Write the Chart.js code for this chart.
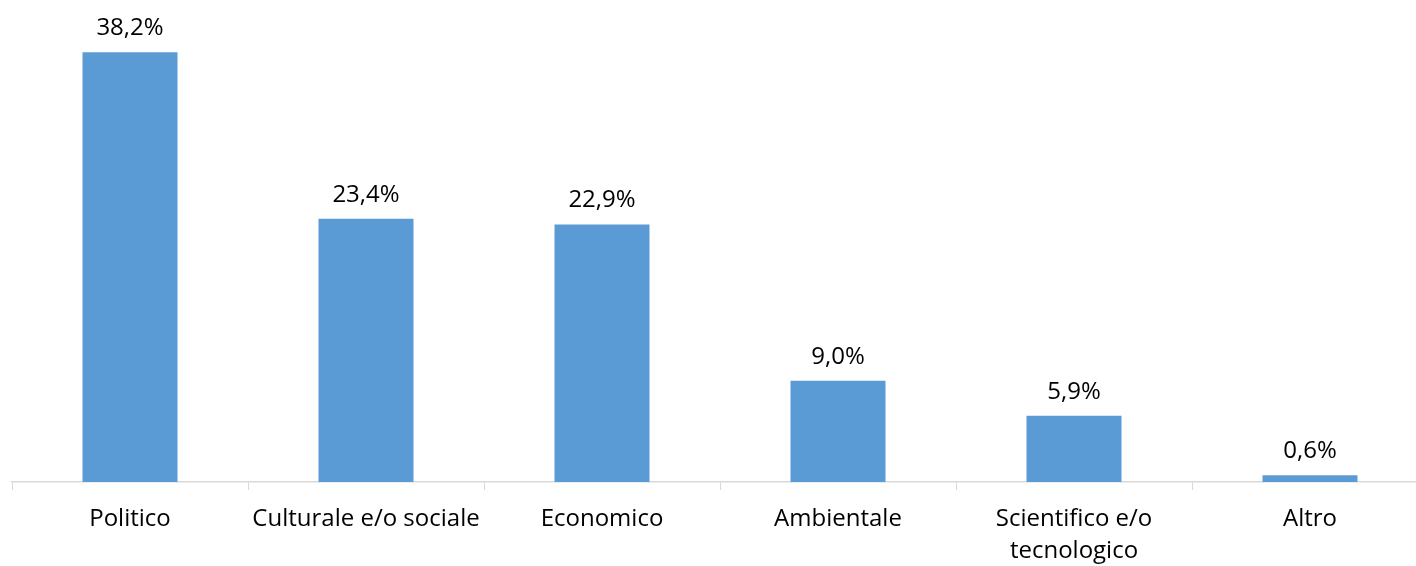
<!DOCTYPE html>
<html>
<head>
<meta charset="utf-8">
<script src="https://cdn.jsdelivr.net/npm/chart.js@4/dist/chart.umd.min.js"></script>
<style>
	html, body { margin:0; padding:0; background:#fff; overflow:hidden; }
	#wrap { width:1430px; height:566px; position:relative; }
</style>
</head>
<body>
<div id="wrap"><canvas id="chart"></canvas></div>
<script>
var categories = ['Politico', 'Culturale e/o sociale', 'Economico', 'Ambientale', ['Scientifico e/o', 'tecnologico'], 'Altro'];
var shares = [38.2, 23.4, 22.9, 9.0, 5.9, 0.6];
var yMax = 40;

var fmt = function(v) {
	return v.toFixed(1).replace('.', ',') + '%';
};

// value labels over each bar
var valueLabels = {
	id:'valueLabels',
	afterDatasetsDraw:function(chart) {
		var ctx = chart.ctx;
		var meta = chart.getDatasetMeta(0);
		ctx.save();
		ctx.font = '24px "Open Sans", sans-serif';
		ctx.fillStyle = '#000';
		ctx.textAlign = 'center';
		ctx.textBaseline = 'alphabetic';
		meta.data.forEach(function(bar, i) {
			ctx.fillText(fmt(shares[i]), bar.x, bar.y - 17);
		});
		ctx.restore();
	}
};

var ctx = document.getElementById('chart').getContext('2d');
new Chart(ctx, {
	type:'bar',
	data:{
		labels:categories,
		datasets:[{
			data:shares,
			backgroundColor:'#5B9BD5',
			barPercentage:0.4025,
			categoryPercentage:1
		}]
	},
	options:{
		responsive:true,
		maintainAspectRatio:false,
		animation:false,
		layout:{padding:{left:12, right:2, top:32, bottom:0}},
		plugins:{legend:{display:false}, tooltip:{enabled:false}},
		scales:{
			x:{
				grid:{
					offset:true,
					drawOnChartArea:false,
					tickLength:8,
					color:'#d9d9d9'
				},
				border:{color:'#d9d9d9', width:1.5},
				ticks:{
					color:'#000',
					padding:13,
					maxRotation:0,
					autoSkip:false,
					font:{family:'"Open Sans", sans-serif', size:24, lineHeight:1.3333}
				},
				afterFit:function(s) { s.height = 84; }
			},
			y:{
				display:false,
				min:0,
				max:yMax
			}
		}
	},
	plugins:[valueLabels]
});
</script>
</body>
</html>
